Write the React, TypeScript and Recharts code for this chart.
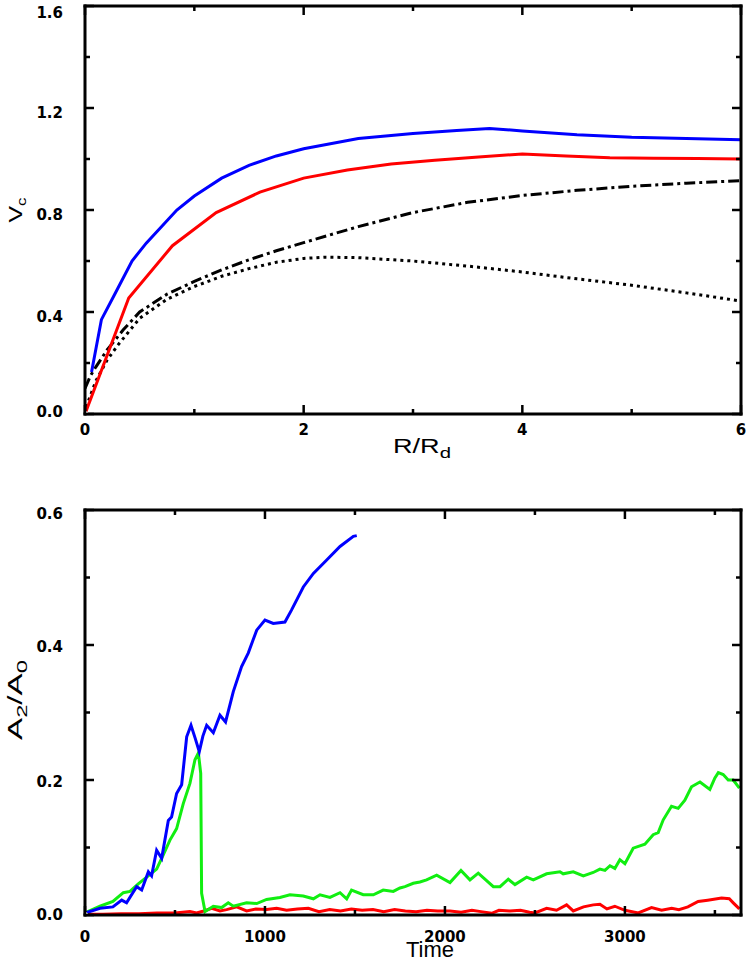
import React from 'react';
import { LineChart, Line, XAxis, YAxis, Label } from 'recharts';

// ---------- Top panel: rotation curves (V_c vs R/R_d) ----------
const topXTicks = [0, 1, 2, 3, 4, 5, 6];
const topYTicks = [0, 0.2, 0.4, 0.6, 0.8, 1.0, 1.2, 1.4, 1.6];

const blueR = [0.06, 0.15, 0.26, 0.43, 0.56, 0.84, 1.0, 1.25, 1.5, 1.75, 2.0, 2.5, 3.0, 3.4, 3.7, 4.0, 4.5, 5.0, 5.5, 6.0];
const blueV = [0.165, 0.37, 0.46, 0.6, 0.67, 0.8, 0.855, 0.925, 0.975, 1.012, 1.04, 1.08, 1.1, 1.112, 1.12, 1.11, 1.095, 1.085, 1.08, 1.075];

const redR = [0, 0.4, 0.8, 1.2, 1.6, 2.0, 2.4, 2.8, 3.2, 3.6, 4.0, 4.4, 4.8, 5.2, 5.6, 6.0];
const redV = [0, 0.455, 0.66, 0.79, 0.87, 0.925, 0.957, 0.98, 0.995, 1.008, 1.02, 1.012, 1.005, 1.003, 1.002, 1.0];

const haloR = [0, 0.05, 0.1, 0.2, 0.35, 0.5, 0.75, 1.0, 1.25, 1.5, 1.75, 2.0, 2.5, 3.0, 3.5, 4.0, 4.5, 5.0, 5.5, 6.0];
const haloV = [0.1, 0.15, 0.185, 0.25, 0.33, 0.4, 0.47, 0.52, 0.565, 0.605, 0.64, 0.672, 0.735, 0.79, 0.83, 0.857, 0.877, 0.893, 0.905, 0.915];

const diskR = [0, 0.03, 0.1, 0.2, 0.3, 0.5, 0.75, 1.0, 1.25, 1.5, 1.75, 2.0, 2.2, 2.5, 3.0, 3.5, 4.0, 4.5, 5.0, 5.5, 6.0];
const diskV = [0, 0.05, 0.13, 0.21, 0.27, 0.375, 0.45, 0.5, 0.54, 0.57, 0.595, 0.61, 0.615, 0.613, 0.6, 0.58, 0.557, 0.53, 0.505, 0.475, 0.443];

// ---------- Bottom panel: bar strength (A2/A0 vs Time) ----------
const botXTicks = [0, 500, 1000, 1500, 2000, 2500, 3000, 3500];
const botYTicks = [0, 0.1, 0.2, 0.3, 0.4, 0.5, 0.6];

const blueT = [0, 83, 155, 204, 231, 287, 315, 352, 370, 398, 426, 463, 481, 509, 537, 565, 589, 612, 635, 655, 676, 713, 750, 781, 824, 870, 907, 954, 1000, 1046, 1111, 1148, 1213, 1269, 1343, 1417, 1491, 1510];
const blueA = [0.003, 0.01, 0.012, 0.022, 0.018, 0.042, 0.037, 0.064, 0.058, 0.096, 0.084, 0.14, 0.145, 0.18, 0.193, 0.264, 0.281, 0.262, 0.242, 0.265, 0.281, 0.27, 0.296, 0.286, 0.331, 0.368, 0.388, 0.422, 0.437, 0.432, 0.434, 0.452, 0.486, 0.506, 0.526, 0.546, 0.561, 0.562];

const greenT = [0, 83, 155, 213, 250, 296, 343, 398, 435, 472, 509, 546, 583, 611, 630, 643, 648, 667, 713, 759, 796, 824, 898, 954, 1009, 1083, 1139, 1213, 1269, 1306, 1361, 1417, 1454, 1481, 1546, 1602, 1657, 1713, 1750, 1778, 1824, 1861, 1898, 1954, 2028, 2089, 2139, 2185, 2269, 2306, 2352, 2389, 2454, 2491, 2565, 2639, 2657, 2713, 2769, 2824, 2861, 2889, 2917, 2944, 2972, 3000, 3046, 3111, 3157, 3185, 3213, 3259, 3296, 3333, 3370, 3417, 3472, 3500, 3519, 3546, 3574, 3602, 3636];
const greenA = [0.003, 0.013, 0.02, 0.033, 0.035, 0.046, 0.056, 0.068, 0.089, 0.111, 0.128, 0.165, 0.195, 0.23, 0.24, 0.21, 0.032, 0.005, 0.013, 0.011, 0.018, 0.013, 0.018, 0.017, 0.023, 0.026, 0.03, 0.028, 0.024, 0.03, 0.026, 0.033, 0.024, 0.037, 0.03, 0.03, 0.037, 0.035, 0.04, 0.042, 0.047, 0.049, 0.052, 0.059, 0.048, 0.066, 0.052, 0.062, 0.042, 0.042, 0.053, 0.045, 0.056, 0.052, 0.061, 0.064, 0.061, 0.064, 0.058, 0.063, 0.068, 0.066, 0.073, 0.069, 0.082, 0.076, 0.099, 0.105, 0.119, 0.122, 0.141, 0.161, 0.158, 0.17, 0.19, 0.197, 0.186, 0.203, 0.211, 0.208, 0.2, 0.2, 0.188];

const redT = [0, 100, 200, 300, 400, 500, 583, 620, 660, 704, 750, 787, 843, 898, 950, 1009, 1065, 1120, 1180, 1241, 1300, 1360, 1420, 1480, 1540, 1600, 1660, 1720, 1780, 1840, 1900, 1960, 2028, 2090, 2150, 2200, 2260, 2300, 2360, 2420, 2470, 2500, 2565, 2620, 2676, 2713, 2770, 2824, 2861, 2900, 2944, 3000, 3074, 3148, 3204, 3260, 3300, 3350, 3407, 3460, 3537, 3580, 3602, 3636];
const redA = [0.001, 0.001, 0.002, 0.002, 0.003, 0.003, 0.005, 0.003, 0.006, 0.01, 0.006, 0.008, 0.012, 0.006, 0.009, 0.008, 0.01, 0.007, 0.009, 0.01, 0.005, 0.008, 0.006, 0.009, 0.007, 0.008, 0.005, 0.008, 0.006, 0.005, 0.007, 0.006, 0.006, 0.004, 0.007, 0.005, 0.0025, 0.007, 0.006, 0.007, 0.004, 0.003, 0.01, 0.007, 0.015, 0.006, 0.012, 0.015, 0.016, 0.009, 0.013, 0.007, 0.003, 0.011, 0.007, 0.01, 0.008, 0.012, 0.02, 0.022, 0.025, 0.024, 0.018, 0.009];

const zip = (xs: number[], ys: number[]) => xs.map((x, i) => ({ x, v: ys[i] }));

const TICK_FONT = { fontFamily: 'DejaVu Sans', fontWeight: 700, fontSize: 15, fill: '#000' } as const;
const TITLE_FONT = 'Liberation Sans, Arial, sans-serif';

type Orient = 'bottom' | 'left' | 'top' | 'right';

const makeTick = (
  orient: Orient,
  fmt: ((v: number) => string) | null,
  labelOffset = 0,
  centerShift: (i: number, n: number) => number = () => 0,
) => (props: any) => {
  const { x, y, payload, index, visibleTicksCount } = props;
  const major = index % 2 === 0;
  const len = major ? 9 : 5;
  let x2 = x, y2 = y;
  if (orient === 'bottom') y2 = y - len;
  if (orient === 'top') y2 = y + len;
  if (orient === 'left') x2 = x + len;
  if (orient === 'right') x2 = x - len;
  let label: React.ReactNode = null;
  if (fmt && major) {
    if (orient === 'bottom') {
      label = <text x={x} y={y + labelOffset} textAnchor="middle" {...TICK_FONT}>{fmt(payload.value)}</text>;
    } else if (orient === 'left') {
      label = <text x={x - 22} y={y + 5.5 + centerShift(index, visibleTicksCount)} textAnchor="end" {...TICK_FONT}>{fmt(payload.value)}</text>;
    }
  }
  return (
    <g>
      <line x1={x} y1={y} x2={x2} y2={y2} stroke="#000" strokeWidth={2.5} />
      {label}
    </g>
  );
};

const axisLine = { stroke: '#000', strokeWidth: 3, strokeLinecap: 'square' as const };

const topShift = (i: number, n: number) => (i === 0 ? -3 : i === (n || 9) - 1 ? 6 : 4);
const botShift = (i: number, n: number) => (i === 0 ? -1 : i === (n || 7) - 1 ? 3 : 1.5);

const RTitle = (p: any) => {
  const vb = p.viewBox;
  return (
    <text x={422} y={vb.y + 39} textAnchor="middle" fontFamily={TITLE_FONT} fontSize={20} fill="#000" textLength={58} lengthAdjust="spacingAndGlyphs">
      R/R<tspan fontSize={15} dy={5}>d</tspan>
    </text>
  );
};
const VTitle = (p: any) => {
  const vb = p.viewBox;
  const cx = 22, cy = vb.y + 204;
  return (
    <text x={cx} y={cy} textAnchor="middle" transform={`rotate(-90, ${cx}, ${cy})`} fontFamily={TITLE_FONT} fontSize={19} fill="#000" textLength={25} lengthAdjust="spacingAndGlyphs">
      V<tspan fontSize={13} dy={4}>c</tspan>
    </text>
  );
};
const TimeTitle = (p: any) => {
  const vb = p.viewBox;
  return (
    <text x={430} y={vb.y + 42} textAnchor="middle" fontFamily={TITLE_FONT} fontSize={22} fill="#000">Time</text>
  );
};
const ATitle = (p: any) => {
  const vb = p.viewBox;
  const cx = 22, cy = vb.y + 190;
  return (
    <text x={cx} y={cy} textAnchor="middle" transform={`rotate(-90, ${cx}, ${cy})`} fontFamily={TITLE_FONT} fontSize={21} fill="#000" textLength={80} lengthAdjust="spacingAndGlyphs">
      A<tspan fontSize={15} dy={5}>2</tspan><tspan fontSize={21} dy={-5}>/A</tspan><tspan fontSize={15} dy={5}>0</tspan>
    </text>
  );
};

const frameAnchorTop = [{ x: 0, v: 0 }];
const frameAnchorBot = [{ x: 0, v: 0 }];

export default function App() {
  return (
    <div style={{ position: 'absolute', left: 0, top: 0, width: 747, height: 964, background: '#fff' }}>
      <div style={{ position: 'absolute', left: 0, top: 0 }}>
        <LineChart width={747} height={480} margin={{ top: 5, right: 5, bottom: 0, left: 0 }}>
          <XAxis dataKey="x" type="number" domain={[0, 6]} ticks={topXTicks} interval={0} allowDataOverflow
            height={66} tickSize={0} tickMargin={0} tickLine={false} axisLine={axisLine}
            tick={makeTick('bottom', (v) => String(v), 21)}>
            <Label content={RTitle} />
          </XAxis>
          <XAxis xAxisId="t" orientation="top" dataKey="x" type="number" domain={[0, 6]} ticks={topXTicks} interval={0} allowDataOverflow
            height={1} tickSize={0} tickMargin={0} tickLine={false} axisLine={axisLine} tick={makeTick('top', null)} />
          <YAxis type="number" domain={[0, 1.6]} ticks={topYTicks} interval={0} allowDataOverflow
            width={85} tickSize={0} tickMargin={0} tickLine={false} axisLine={axisLine}
            tick={makeTick('left', (v) => v.toFixed(1), 0, topShift)}>
            <Label content={VTitle} />
          </YAxis>
          <YAxis yAxisId="r" orientation="right" type="number" domain={[0, 1.6]} ticks={topYTicks} interval={0} allowDataOverflow
            width={1} tickSize={0} tickMargin={0} tickLine={false} axisLine={axisLine} tick={makeTick('right', null)} />
          <Line xAxisId="t" yAxisId="r" data={frameAnchorTop} dataKey="v" stroke="none" dot={false} isAnimationActive={false} />
          <Line data={zip(diskR, diskV)} dataKey="v" type="linear" stroke="#000" strokeWidth={3} strokeDasharray="3 4" dot={false} isAnimationActive={false} />
          <Line data={zip(haloR, haloV)} dataKey="v" type="linear" stroke="#000" strokeWidth={3} strokeDasharray="11 4 3 4" dot={false} isAnimationActive={false} />
          <Line data={zip(redR, redV)} dataKey="v" type="linear" stroke="#ff0000" strokeWidth={3} dot={false} isAnimationActive={false} />
          <Line data={zip(blueR, blueV)} dataKey="v" type="linear" stroke="#0000ff" strokeWidth={3} dot={false} isAnimationActive={false} />
        </LineChart>
      </div>
      <div style={{ position: 'absolute', left: 0, top: 480 }}>
        <LineChart width={747} height={484} margin={{ top: 29, right: 5, bottom: 0, left: 0 }}>
          <XAxis dataKey="x" type="number" domain={[0, 3645]} ticks={botXTicks} interval={0} allowDataOverflow
            height={49} tickSize={0} tickMargin={0} tickLine={false} axisLine={axisLine}
            tick={makeTick('bottom', (v) => String(v), 27)}>
            <Label content={TimeTitle} />
          </XAxis>
          <XAxis xAxisId="t" orientation="top" dataKey="x" type="number" domain={[0, 3645]} ticks={botXTicks} interval={0} allowDataOverflow
            height={1} tickSize={0} tickMargin={0} tickLine={false} axisLine={axisLine} tick={makeTick('top', null)} />
          <YAxis type="number" domain={[0, 0.6]} ticks={botYTicks} interval={0} allowDataOverflow
            width={85} tickSize={0} tickMargin={0} tickLine={false} axisLine={axisLine}
            tick={makeTick('left', (v) => v.toFixed(1), 0, botShift)}>
            <Label content={ATitle} />
          </YAxis>
          <YAxis yAxisId="r" orientation="right" type="number" domain={[0, 0.6]} ticks={botYTicks} interval={0} allowDataOverflow
            width={1} tickSize={0} tickMargin={0} tickLine={false} axisLine={axisLine} tick={makeTick('right', null)} />
          <Line xAxisId="t" yAxisId="r" data={frameAnchorBot} dataKey="v" stroke="none" dot={false} isAnimationActive={false} />
          <Line data={zip(redT, redA)} dataKey="v" type="linear" stroke="#ff0000" strokeWidth={3} dot={false} isAnimationActive={false} />
          <Line data={zip(greenT, greenA)} dataKey="v" type="linear" stroke="#11ee11" strokeWidth={3} dot={false} isAnimationActive={false} />
          <Line data={zip(blueT, blueA)} dataKey="v" type="linear" stroke="#0000ff" strokeWidth={3} dot={false} isAnimationActive={false} />
        </LineChart>
      </div>
    </div>
  );
}
